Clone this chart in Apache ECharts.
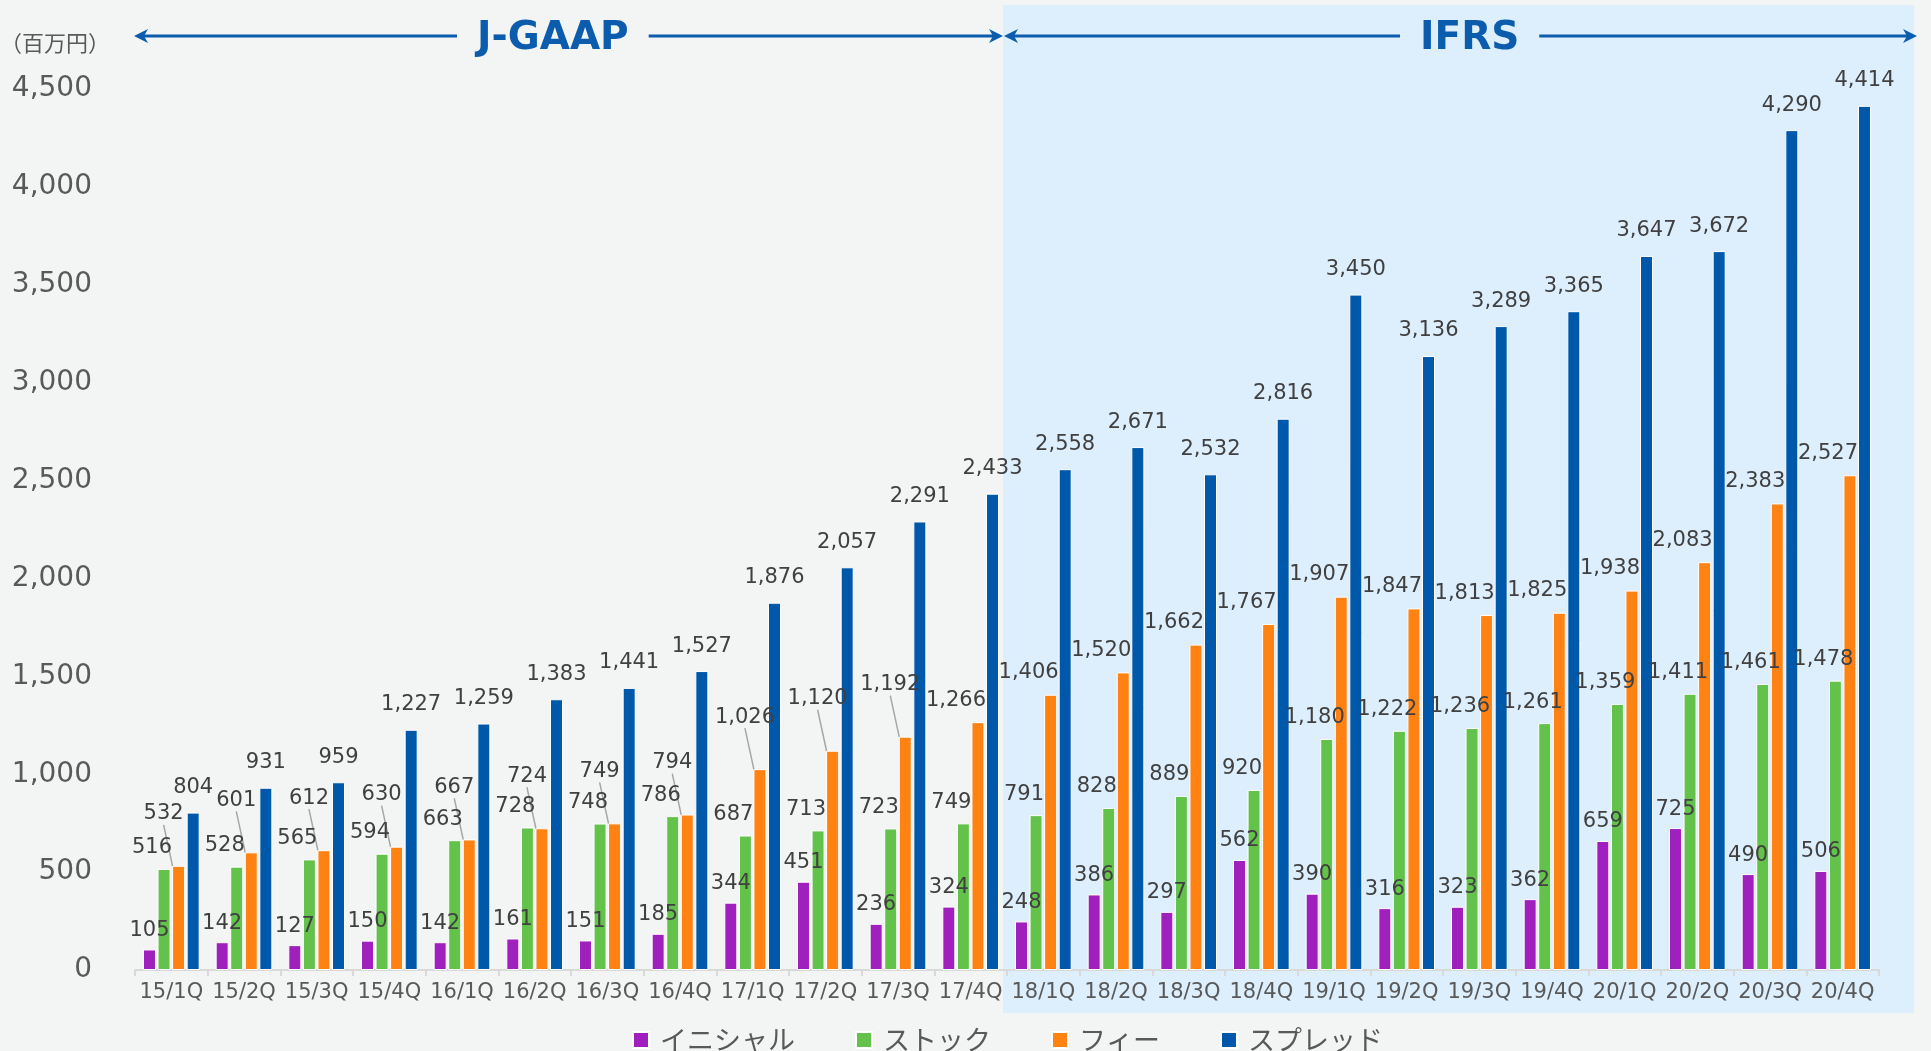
<!DOCTYPE html>
<html>
<head>
<meta charset="utf-8">
<script src="https://cdn.jsdelivr.net/npm/echarts@6/dist/echarts.min.js"></script>
<style>
html,body{margin:0;padding:0;background:#F3F5F4;}
#c{width:1931px;height:1051px;}
</style>
</head>
<body>
<div id="c"></div>
<script>
// ---------- data ----------
const categories = ['15/1Q','15/2Q','15/3Q','15/4Q','16/1Q','16/2Q','16/3Q','16/4Q',
  '17/1Q','17/2Q','17/3Q','17/4Q','18/1Q','18/2Q','18/3Q','18/4Q',
  '19/1Q','19/2Q','19/3Q','19/4Q','20/1Q','20/2Q','20/3Q','20/4Q'];
const initialValues = [105,142,127,150,142,161,151,185,344,451,236,324,248,386,297,562,390,316,323,362,659,725,490,506];
const stockValues   = [516,528,565,594,663,728,748,786,687,713,723,749,791,828,889,920,1180,1222,1236,1261,1359,1411,1461,1478];
const feeValues     = [532,601,612,630,667,724,749,794,1026,1120,1192,1266,1406,1520,1662,1767,1907,1847,1813,1825,1938,2083,2383,2527];
const spreadValues  = [804,931,959,1227,1259,1383,1441,1527,1876,2057,2291,2433,2558,2671,2532,2816,3450,3136,3289,3365,3647,3672,4290,4414];
const seriesNames = ['イニシャル','ストック','フィー','スプレッド'];
const yMin = 0, yMax = 4500, yInterval = 500;
const unitLabel = '（百万円）';
const sectionNames = ['J-GAAP','IFRS'];
const ifrsStartCategory = '18/1Q';

// ---------- style ----------
const FONT = "'DejaVu Sans', Verdana, sans-serif";
const JP = "'Noto Sans CJK JP', 'Noto Sans', sans-serif";
const COLORS = ['#A020BE','#63C24A','#FF8213','#0058AA'];
const ACCENT = '#0B5CAD';
const labelCfg = [
  {distance: 8,  dx: 0},
  {distance: 10, dx: -12},
  {distance: 11, dx: -22},
  {distance: 14, dx: 0}
];
const LEADER_COUNT = 11; // early fee labels are lifted with leader lines

const chart = echarts.init(document.getElementById('c'), null, {renderer: 'canvas'});

function feeLayout(p) {
  const lr = p.labelRect, r = p.rect;
  if (p.dataIndex < LEADER_COUNT) {
    const dx = -15, dy = -30;
    const lx = lr.x + dx + lr.width / 2 + 1;
    const ly = lr.y + dy + lr.height;
    const bx = r.x + r.width / 2 - 1, by = r.y - 1;
    const sy = ly + (by - ly) * 0.3;
    return {dx: dx, dy: dy, labelLinePoints: [[lx, sy], [(lx + bx) / 2, (sy + by) / 2], [bx, by]]};
  }
  return {dx: labelCfg[2].dx};
}

const valuesList = [initialValues, stockValues, feeValues, spreadValues];
const series = valuesList.map(function (vals, i) {
  const s = {
    name: seriesNames[i],
    type: 'bar',
    data: vals,
    barWidth: 13,
    barGap: '12%',
    itemStyle: {color: COLORS[i], borderColor: '#ffffff', borderWidth: 1},
    label: {
      show: true, position: 'top', distance: labelCfg[i].distance, offset: [labelCfg[i].dx, 0],
      color: '#404040', fontSize: 21, fontFamily: FONT, lineHeight: 22,
      formatter: function (p) { return Number(p.value).toLocaleString('en-US'); }
    },
    emphasis: {disabled: true},
    animation: false
  };
  if (i === 2) {
    s.label.offset = [0, 0];
    s.data = vals.map(function (v, k) {
      return {value: v, labelLine: {show: k < LEADER_COUNT, lineStyle: {color: '#A6A6A6', width: 1.5}}};
    });
    s.labelLine = {show: false, lineStyle: {color: '#A6A6A6', width: 1.5}};
    s.labelLayout = feeLayout;
  }
  return s;
});

chart.setOption({
  backgroundColor: '#F3F5F4',
  animation: false,
  grid: {left: 135, right: 52, top: 89, bottom: 81, containLabel: false, outerBoundsMode: 'none'},
  legend: {
    data: seriesNames, left: 627, top: 1021, icon: 'rect', itemWidth: 16, itemHeight: 16, itemGap: 60,
    textStyle: {color: '#595959', fontSize: 27, fontFamily: JP, padding: [0, 0, 0, 6], lineHeight: 28},
    selectedMode: false
  },
  xAxis: {
    type: 'category', data: categories,
    axisLine: {show: true, lineStyle: {color: '#D9D9D9', width: 2}},
    axisTick: {show: true, length: 6, lineStyle: {color: '#D9D9D9', width: 2}},
    axisLabel: {color: '#595959', fontSize: 21, fontFamily: FONT, margin: 12, interval: 0},
    splitLine: {show: false}
  },
  yAxis: {
    type: 'value', min: yMin, max: yMax, interval: yInterval,
    axisLine: {show: false}, axisTick: {show: false}, splitLine: {show: false},
    axisLabel: {color: '#595959', fontSize: 28, fontFamily: FONT, margin: 43, padding: [0, 0, 13, 0],
      formatter: function (v) { return Number(v).toLocaleString('en-US'); }}
  },
  series: series
});

// ---------- decorations (section background, arrows, titles) ----------
function measure(text, font) {
  const c = document.createElement('canvas').getContext('2d');
  c.font = font;
  return c.measureText(text).width;
}
function arrowHead(x, y, dir) {
  const L = 14, H = 7, N = 10;
  return {type: 'polygon', silent: true, z: 5,
    shape: {points: [[x, y], [x - dir * L, y - H], [x - dir * N, y], [x - dir * L, y + H]]},
    style: {fill: ACCENT}};
}
function hline(x1, x2, y) {
  return {type: 'line', silent: true, z: 5, shape: {x1: x1, y1: y, x2: x2, y2: y},
    style: {stroke: ACCENT, lineWidth: 3}};
}
function section(name, x1, x2, y, frac, font) {
  const w = measure(name, font);
  const cx = x1 + (x2 - x1) * frac;
  const gap = 20;
  return [
    hline(x1 + 8, cx - w / 2 - gap, y),
    hline(cx + w / 2 + gap, x2 - 8, y),
    arrowHead(x1, y, -1),
    arrowHead(x2, y, 1),
    {type: 'text', silent: true, z: 5, x: cx, y: y + 3,
      style: {text: name, font: font, fill: ACCENT, align: 'center', verticalAlign: 'middle'}}
  ];
}

const xs = categories.map(function (c) { return chart.convertToPixel({xAxisIndex: 0}, c); });
const band = (xs[xs.length - 1] - xs[0]) / (xs.length - 1);
const gridLeft = xs[0] - band / 2;
const gridRight = xs[xs.length - 1] + band / 2;
const split = xs[categories.indexOf(ifrsStartCategory)] - band / 2 - 4;
const bgRight = gridRight + 35;
const arrowY = 36;
const titleFont = "bold 39px 'DejaVu Sans', Verdana, sans-serif";

const graphics = [
  {type: 'rect', silent: true, z: -10, shape: {x: split, y: 5, width: bgRight - split, height: 1008},
    style: {fill: '#DDEEFD'}},
  {type: 'text', silent: true, z: 5, x: 0, y: 43,
    style: {text: unitLabel, font: "22px 'Noto Sans CJK JP', sans-serif", fill: '#595959', verticalAlign: 'middle'}}
].concat(section(sectionNames[0], gridLeft - 1, split, arrowY, 0.482, titleFont))
 .concat(section(sectionNames[1], split + 1, bgRight + 3, arrowY, 0.51, titleFont));

chart.setOption({graphic: {elements: graphics}});
</script>
</body>
</html>
